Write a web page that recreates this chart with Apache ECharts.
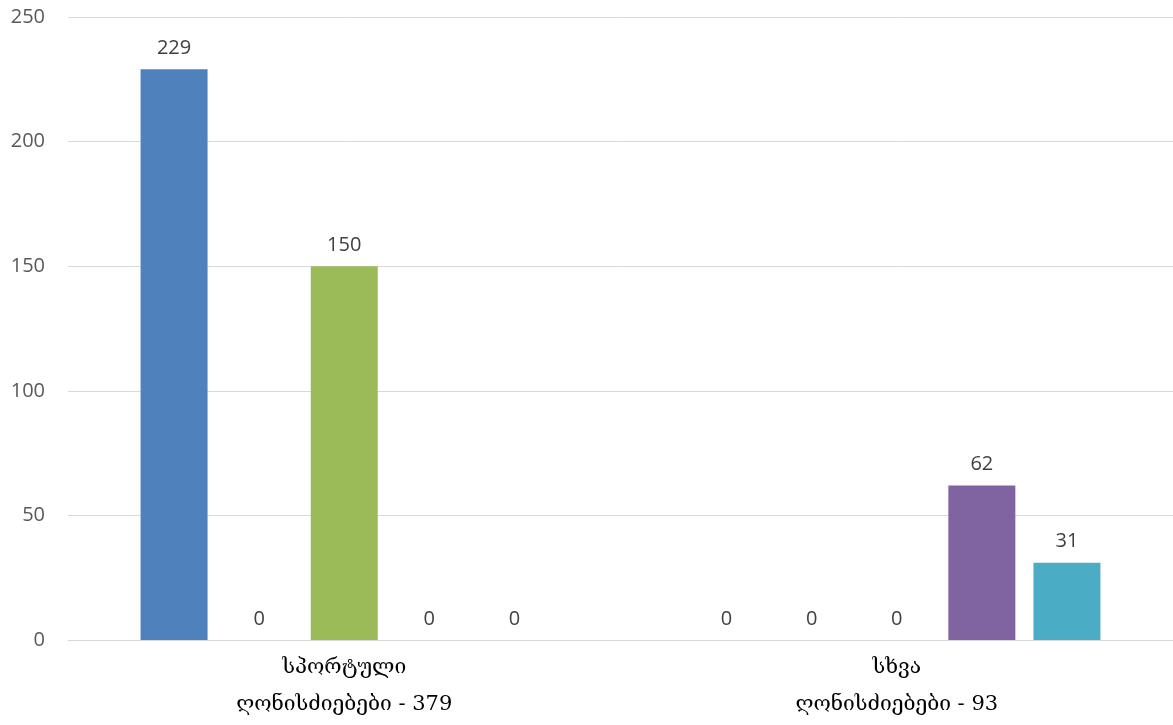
<!DOCTYPE html>
<html>
<head>
<meta charset="utf-8">
<script src="https://cdn.jsdelivr.net/npm/echarts@6/dist/echarts.min.js"></script>
<style>html,body{margin:0;padding:0;background:#fff}#c{width:1173px;height:725px}</style>
</head>
<body>
<div id="c"></div>
<script>
var categories = ['სპორტული\nღონისძიებები - 379', 'სხვა\nღონისძიებები - 93'];
var seriesNames = ['სერია 1', 'სერია 2', 'სერია 3', 'სერია 4', 'სერია 5'];
var series1 = [229, 0];
var series2 = [0, 0];
var series3 = [150, 0];
var series4 = [0, 62];
var series5 = [0, 31];
var colors = ['#4F81BD', '#C0504D', '#9BBB59', '#8064A2', '#4BACC6'];
var yTicks = {min: 0, max: 250, interval: 50};

var allData = [series1, series2, series3, series4, series5];
var chart = echarts.init(document.getElementById('c'));
chart.setOption({
  animation: false,
  grid: {left: 68, right: 0, top: 17, bottom: 85, containLabel: false},
  xAxis: {
    type: 'category',
    data: categories,
    axisLine: {show: true, lineStyle: {color: '#D9D9D9', width: 1}},
    axisTick: {show: false},
    axisLabel: {
      color: '#000000',
      fontSize: 21,
      lineHeight: 37,
      margin: 9,
      fontFamily: 'DejaVu Serif, DejaVu Sans, sans-serif'
    }
  },
  yAxis: {
    type: 'value',
    min: yTicks.min, max: yTicks.max, interval: yTicks.interval,
    axisLine: {show: false},
    axisTick: {show: false},
    splitLine: {lineStyle: {color: '#D9D9D9', width: 1}},
    axisLabel: {color: '#595959', fontSize: 20, margin: 23, fontFamily: 'Open Sans, sans-serif'}
  },
  series: allData.map(function (d, i) {
    return {
      name: seriesNames[i],
      type: 'bar',
      data: d,
      barWidth: 67,
      barGap: '27%',
      itemStyle: {color: colors[i]},
      label: {
        show: true,
        position: 'top',
        distance: 11,
        color: '#404040',
        fontSize: 20,
        fontFamily: 'Open Sans, sans-serif'
      }
    };
  })
});
</script>
</body>
</html>
